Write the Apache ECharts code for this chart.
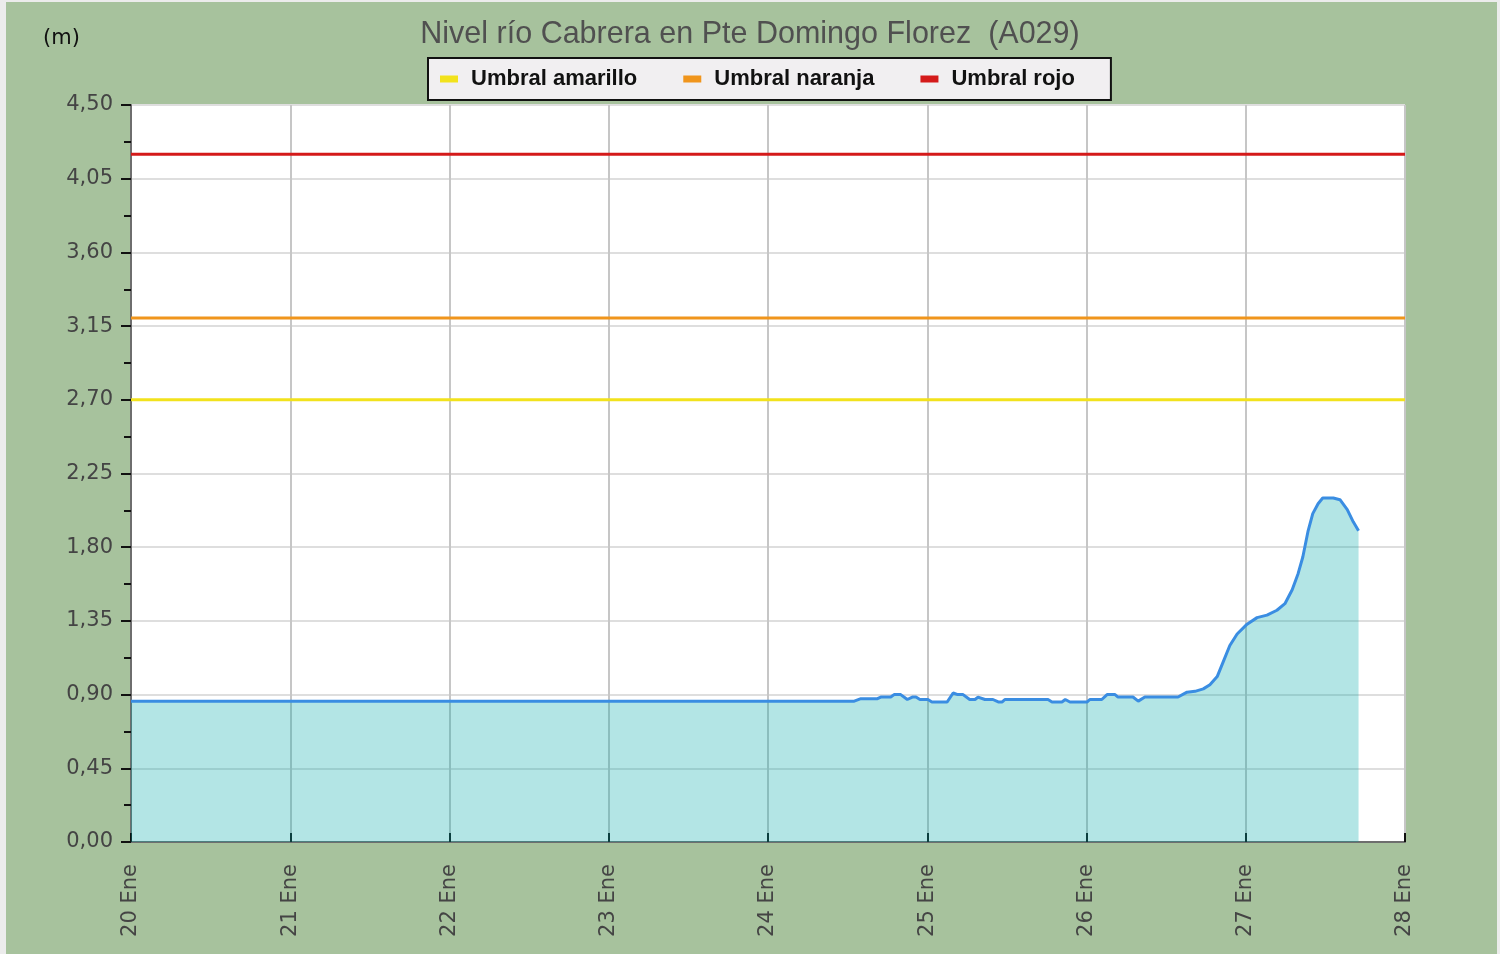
<!DOCTYPE html>
<html>
<head>
<meta charset="utf-8">
<script src="https://cdn.jsdelivr.net/npm/echarts@6/dist/echarts.min.js"></script>
<style>
html,body{margin:0;padding:0;background:#ececec;}
#bg{position:absolute;left:6px;top:2px;width:1491px;height:952px;background:#a7c29d;}
#chart{position:absolute;left:0;top:0;width:1500px;height:954px;}
</style>
</head>
<body>
<div id="bg"></div>
<div id="chart"></div>
<script>
// hours since 20 Ene 00:00
const hours = [0, 109, 110, 112.5, 113, 114.5, 115, 116, 117, 117.75, 118.3, 118.9, 120.1, 120.7, 123.0, 123.9, 124.6, 125.4, 126.4, 127.2, 127.65, 128.7, 129.9, 130.7, 131.3, 131.7, 138.2, 138.8, 140.3, 140.8, 141.5, 144.1, 144.5, 146.3, 147.1, 148.3, 148.75, 151.0, 151.8, 152.8, 157.8, 159.15, 160.35, 161.6, 162.6, 163.7, 164.6, 165.6, 166.7, 168.2, 169.7, 171.2, 172.7, 173.9, 175.0, 175.9, 176.6, 177.4, 178.1, 178.9, 179.6, 181.2, 182.2, 183.3, 184.2, 185];
const levels = [0.86, 0.86, 0.875, 0.875, 0.885, 0.885, 0.90, 0.90, 0.87, 0.885, 0.885, 0.87, 0.87, 0.855, 0.855, 0.91, 0.90, 0.90, 0.87, 0.87, 0.885, 0.87, 0.87, 0.855, 0.855, 0.87, 0.87, 0.855, 0.855, 0.87, 0.855, 0.855, 0.87, 0.87, 0.90, 0.90, 0.885, 0.885, 0.86, 0.885, 0.885, 0.915, 0.92, 0.935, 0.96, 1.01, 1.10, 1.20, 1.27, 1.33, 1.37, 1.385, 1.415, 1.455, 1.54, 1.64, 1.74, 1.90, 2.005, 2.065, 2.10, 2.10, 2.09, 2.03, 1.955, 1.90];
const thresholdNames = ['Umbral amarillo', 'Umbral naranja', 'Umbral rojo'];
const thresholdValues = [2.70, 3.20, 4.20];
const thresholdColors = ['#f2e21c', '#f0951c', '#d41a1a'];
const xStartDay = 20;
const xMaxHours = 192;
const yMax = 4.5;
const yInterval = 0.45;

const chart = echarts.init(document.getElementById('chart'), null, {renderer: 'canvas'});
const levelData = hours.map((h, i) => [h, levels[i]]);
const thresholdSeries = thresholdNames.map((n, i) => ({
  name: n,
  type: 'line',
  data: [[0, thresholdValues[i]], [xMaxHours, thresholdValues[i]]],
  symbol: 'none',
  silent: true,
  lineStyle: {color: thresholdColors[i], width: 3},
  itemStyle: {color: thresholdColors[i]},
  z: 5
}));

chart.setOption({
  backgroundColor: 'transparent',
  animation: false,
  title: {
    text: 'Nivel río Cabrera en Pte Domingo Florez  (A029)',
    left: 'center',
    top: 14,
    textStyle: {fontFamily: 'Liberation Sans', fontSize: 30.5, fontWeight: 'normal', color: '#505050'}
  },
  legend: {
    data: thresholdNames,
    left: 428,
    top: 58,
    backgroundColor: '#f1eff1',
    borderColor: '#111',
    borderWidth: 2,
    borderRadius: 0,
    padding: [10, 36, 10, 12],
    itemWidth: 18,
    itemHeight: 7,
    itemGap: 46,
    icon: 'rect',
    textStyle: {fontFamily: 'Liberation Sans', fontSize: 22, fontWeight: 'bold', color: '#111', padding: [0, 0, 0, 8]}
  },
  grid: {left: 131, right: 95, top: 105, bottom: 112, containLabel: false, show: true, backgroundColor: '#ffffff', borderWidth: 0},
  xAxis: {
    type: 'value',
    min: 0,
    max: xMaxHours,
    interval: 24,
    axisLine: {show: true, onZero: false, lineStyle: {color: '#6e6e6e', width: 2}},
    axisTick: {show: true, inside: true, length: 9, lineStyle: {color: '#111', width: 2}},
    axisLabel: {
      rotate: 90,
      margin: 22,
      fontFamily: 'DejaVu Sans',
      fontSize: 21,
      color: '#444',
      formatter: v => (xStartDay + v / 24) + ' Ene'
    },
    splitLine: {show: true, lineStyle: {color: '#c6c6c6', width: 2}}
  },
  yAxis: {
    type: 'value',
    min: 0,
    max: yMax,
    interval: yInterval,
    name: '(m)',
    nameLocation: 'end',
    nameGap: 0,
    nameTextStyle: {fontFamily: 'DejaVu Sans', fontSize: 21, color: '#111', align: 'left', padding: [0, 0, 56, -88]},
    axisLine: {show: true, lineStyle: {color: '#6e6e6e', width: 2}},
    axisTick: {show: true, inside: false, length: 10, lineStyle: {color: '#111', width: 2}},
    minorTick: {show: true, splitNumber: 2, length: 7, lineStyle: {color: '#111', width: 2}},
    axisLabel: {
      margin: 18,
      fontFamily: 'DejaVu Sans',
      fontSize: 21,
      color: '#444',
      formatter: v => v.toFixed(2).replace('.', ',')
    },
    splitLine: {show: true, lineStyle: {color: '#dedede', width: 2}}
  },
  series: [
    {
      name: 'Nivel',
      type: 'line',
      data: levelData,
      symbol: 'none',
      silent: true,
      lineStyle: {color: '#3a8de2', width: 3},
      areaStyle: {color: 'rgba(2,168,168,0.3)', opacity: 1, origin: 'start'},
      z: 3
    }
  ].concat(thresholdSeries)
});
</script>
</body>
</html>
